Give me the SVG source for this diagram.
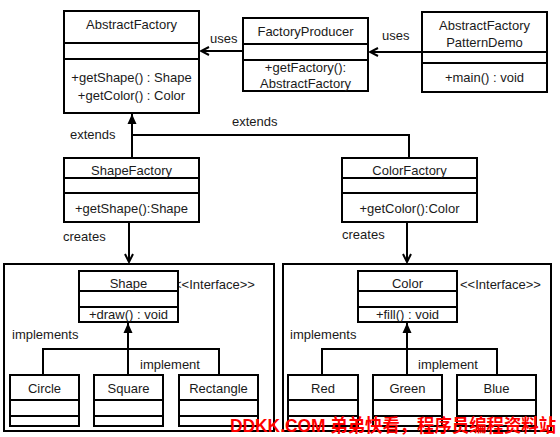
<svg xmlns="http://www.w3.org/2000/svg" width="560" height="437" viewBox="0 0 560 437">
<style>
.box{fill:#fff;stroke:#000;stroke-width:2}
.div{stroke:#000;stroke-width:2;fill:none}
.cont{fill:none;stroke:#000;stroke-width:2}
text{font-family:"Liberation Sans",Arial,sans-serif;font-size:13px;fill:#1a1a1a}
.c{text-anchor:middle}
.ln{stroke:#000;stroke-width:2;fill:none}
.wm{font-family:"Liberation Sans","Noto Sans CJK SC",sans-serif;font-size:18px;font-weight:bold;fill:#ff0000}
</style>
<defs>
<marker id="open" viewBox="0 0 10 10" refX="9" refY="5" markerWidth="10" markerHeight="10" markerUnits="userSpaceOnUse" orient="auto">
<path d="M1,1 L9,5 L1,9" fill="none" stroke="#000" stroke-width="2"/>
</marker>
<marker id="tri" viewBox="0 0 10 10" refX="10" refY="5" markerWidth="10" markerHeight="10" markerUnits="userSpaceOnUse" orient="auto">
<path d="M0,0.5 L10,5 L0,9.5 Z" fill="#000"/>
</marker>
</defs>
<rect width="560" height="437" fill="#fff"/>
<g id="containers">
<rect class="cont" x="4" y="264" width="270" height="167"/>
<rect class="cont" x="283" y="264" width="268" height="167"/>
</g>
<g id="connectors">
<line class="ln" x1="422" y1="52" x2="370" y2="52" marker-end="url(#open)"/>
<line class="ln" x1="243" y1="51" x2="201" y2="51" marker-end="url(#open)"/>
<polyline class="ln" points="409,158 409,135 132,135"/>
<line class="ln" x1="132" y1="158" x2="132" y2="114" marker-end="url(#tri)"/>
<line class="ln" x1="129" y1="222" x2="129" y2="262" marker-end="url(#open)"/>
<line class="ln" x1="407" y1="222" x2="407" y2="262" marker-end="url(#open)"/>
<polyline class="ln" points="43,375 43,349 219,349 219,375"/>
<line class="ln" x1="128" y1="375" x2="128" y2="323" marker-end="url(#tri)"/>
<polyline class="ln" points="322,375 322,349 497,349 497,375"/>
<line class="ln" x1="407" y1="375" x2="407" y2="323" marker-end="url(#tri)"/>
<text x="210" y="43">uses</text>
<text x="382" y="40">uses</text>
<text x="70" y="139">extends</text>
<text x="232" y="126">extends</text>
<text x="63" y="241">creates</text>
<text x="342" y="239">creates</text>
<text x="12" y="339">implements</text>
<text x="140" y="369">implement</text>
<text x="290" y="339">implements</text>
<text x="418" y="369">implement</text>
<text x="174" y="289">&lt;&lt;Interface&gt;&gt;</text>
<text x="460" y="289">&lt;&lt;Interface&gt;&gt;</text>
</g>
<g id="AbstractFactory">
<rect class="box" x="64" y="11" width="135" height="102"/>
<line class="div" x1="64" y1="43" x2="199" y2="43"/>
<line class="div" x1="64" y1="59" x2="199" y2="59"/>
<text class="c" x="131.5" y="29">AbstractFactory</text>
<text class="c" x="131.5" y="82">+getShape() : Shape</text>
<text class="c" x="131.5" y="100">+getColor() : Color</text>
</g>
<g id="FactoryProducer">
<rect class="box" x="243" y="18" width="125" height="73"/>
<line class="div" x1="243" y1="44" x2="368" y2="44"/>
<line class="div" x1="243" y1="60" x2="368" y2="60"/>
<text class="c" x="305.5" y="36">FactoryProducer</text>
<text class="c" x="305.5" y="72">+getFactory():</text>
<text class="c" x="305.5" y="88">AbstractFactory</text>
</g>
<g id="AbstractFactoryPatternDemo">
<rect class="box" x="422" y="12" width="125" height="80"/>
<line class="div" x1="422" y1="52" x2="547" y2="52"/>
<line class="div" x1="422" y1="63" x2="547" y2="63"/>
<text class="c" x="484.5" y="30">AbstractFactory</text>
<text class="c" x="484.5" y="47">PatternDemo</text>
<text class="c" x="484.5" y="82">+main() : void</text>
</g>
<g id="ShapeFactory">
<rect class="box" x="64" y="158" width="135" height="64"/>
<line class="div" x1="64" y1="178" x2="199" y2="178"/>
<line class="div" x1="64" y1="193" x2="199" y2="193"/>
<text class="c" x="131.5" y="175">ShapeFactory</text>
<text class="c" x="131.5" y="213">+getShape():Shape</text>
</g>
<g id="ColorFactory">
<rect class="box" x="342" y="158" width="135" height="64"/>
<line class="div" x1="342" y1="178" x2="477" y2="178"/>
<line class="div" x1="342" y1="193" x2="477" y2="193"/>
<text class="c" x="409.5" y="175">ColorFactory</text>
<text class="c" x="409.5" y="213">+getColor():Color</text>
</g>
<g id="Shape">
<rect class="box" x="79" y="271" width="99" height="51"/>
<line class="div" x1="79" y1="291" x2="178" y2="291"/>
<line class="div" x1="79" y1="307" x2="178" y2="307"/>
<text class="c" x="128.5" y="288">Shape</text>
<text class="c" x="128.5" y="319">+draw() : void</text>
</g>
<g id="Color">
<rect class="box" x="358" y="271" width="99" height="51"/>
<line class="div" x1="358" y1="291" x2="457" y2="291"/>
<line class="div" x1="358" y1="307" x2="457" y2="307"/>
<text class="c" x="407.5" y="288">Color</text>
<text class="c" x="407.5" y="319">+fill() : void</text>
</g>
<g id="Circle">
<rect class="box" x="10" y="375" width="69" height="51"/>
<line class="div" x1="10" y1="400" x2="79" y2="400"/>
<line class="div" x1="10" y1="416" x2="79" y2="416"/>
<text class="c" x="44.5" y="393">Circle</text>
</g>
<g id="Square">
<rect class="box" x="94" y="375" width="69" height="51"/>
<line class="div" x1="94" y1="400" x2="163" y2="400"/>
<line class="div" x1="94" y1="416" x2="163" y2="416"/>
<text class="c" x="128.5" y="393">Square</text>
</g>
<g id="Rectangle">
<rect class="box" x="179" y="375" width="79" height="51"/>
<line class="div" x1="179" y1="400" x2="258" y2="400"/>
<line class="div" x1="179" y1="416" x2="258" y2="416"/>
<text class="c" x="218.5" y="393">Rectangle</text>
</g>
<g id="Red">
<rect class="box" x="288" y="375" width="70" height="51"/>
<line class="div" x1="288" y1="400" x2="358" y2="400"/>
<line class="div" x1="288" y1="416" x2="358" y2="416"/>
<text class="c" x="323" y="393">Red</text>
</g>
<g id="Green">
<rect class="box" x="373" y="375" width="69" height="51"/>
<line class="div" x1="373" y1="400" x2="442" y2="400"/>
<line class="div" x1="373" y1="416" x2="442" y2="416"/>
<text class="c" x="407.5" y="393">Green</text>
</g>
<g id="Blue">
<rect class="box" x="457" y="375" width="79" height="51"/>
<line class="div" x1="457" y1="400" x2="536" y2="400"/>
<line class="div" x1="457" y1="416" x2="536" y2="416"/>
<text class="c" x="496.5" y="393">Blue</text>
</g>
<text class="wm" x="230" y="432" textLength="326" lengthAdjust="spacingAndGlyphs">DDKK.COM 弟弟快看，程序员编程资料站</text>
</svg>
